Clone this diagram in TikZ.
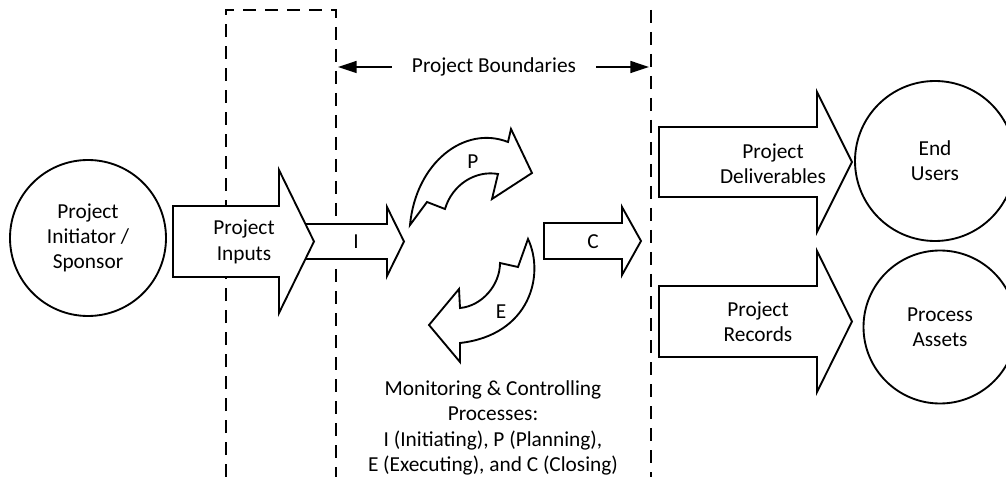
\documentclass[tikz,border=0pt]{standalone}
\usepackage{fontspec}
\setmainfont{Carlito}
\usepackage{tikz}
\usetikzlibrary{
	arrows.meta,
	positioning
}
\tikzset{
  % line
	cstdash/.style    ={line width=1.4pt, dash pattern=on 10pt off 6.5pt}, % boundary line
	cstbra/.style     ={-{Triangle[length=14pt,width=9pt]}, line width=1.2pt}, % boundary arrow
  % shape
	cstblock/.style   ={fill=white, draw=black, line width=1.4pt, line join=miter}, % block arrow
  % node
	csttext/.style    ={align=center, inner sep=0pt, font=\fontsize{16pt}{19pt}\selectfont},
	cstcircle/.style  ={csttext, circle, fill=white, draw=black, line width=1.4pt}
}

\begin{document}
\begin{tikzpicture}[x=0.75pt,y=-0.75pt]
	\useasboundingbox (0,0) rectangle (1006,477);
	% boundaries
	\draw[cstdash] (226,477) -- (226,10) -- (336,10) -- (336,477);
	\draw[cstdash] (651,10) -- (651,477);
	\node[csttext, inner xsep=15pt] (bound) at (494,67) {Project Boundaries};
	\coordinate (bl) at (338,67);
	\coordinate (br) at (649,67);
	\draw[cstbra] (bound) -- (bl);
	\draw[cstbra] (bound) -- (br);
	% sponsor and inputs
	\node[cstcircle, minimum size=117pt] (sponsor) at (88,238) {Project\\Initiator /\\Sponsor};
	\draw[cstblock] (300,224) -- (387,224) -- (387,207) -- (404,241.5) -- (387,276) -- (387,259) -- (300,259) -- cycle;
	\draw[cstblock] (173,206) -- (279,206) -- (279,170) -- (314,241.5) -- (279,313) -- (279,277) -- (173,277) -- cycle;
	\node[csttext] (inputs) at (244,242) {Project\\Inputs};
	\node[csttext] (init) at (356,242) {I};
	% process groups
	\draw[cstblock] (410,225) .. controls (416,162) and (465,125) .. (508,142) -- (511,129) -- (532,173) -- (492,199) -- (498,174)
		.. controls (475,170) and (452,185) .. (445,209) -- (427,202) -- cycle;
	\node[csttext] (plan) at (473,162) {P};
	\draw[cstblock] (429,325) -- (459,289) -- (460,308) .. controls (482,306) and (500,285) .. (500,263) -- (518,267) -- (528,239)
		.. controls (545,275) and (530,335) .. (460,343) -- (460,362) -- cycle;
	\node[csttext] (exec) at (501,312) {E};
	\draw[cstblock] (544,223) -- (622,223) -- (622,207) -- (641,241) -- (622,275) -- (622,259) -- (544,259) -- cycle;
	\node[csttext] (close) at (593,242) {C};
	\node[csttext] (monitor) at (493,428) {Monitoring \& Controlling\\Processes:\\I (Initiating), P (Planning),\\E (Executing), and C (Closing)};
	% outputs
	\draw[cstblock] (659,127) -- (817,127) -- (817,92) -- (852,162) -- (817,232) -- (817,197) -- (659,197) -- cycle;
	\node[csttext] (deliv) at (773,164) {Project\\Deliverables};
	\node[cstcircle, minimum size=120pt] (users) at (935,161) {End\\Users};
	\draw[cstblock] (659,286) -- (817,286) -- (817,251) -- (852,321.5) -- (817,392) -- (817,357) -- (659,357) -- cycle;
	\node[csttext] (records) at (758,322) {Project\\Records};
	\node[cstcircle, minimum size=114.75pt] (assets) at (940,327) {Process\\Assets};
\end{tikzpicture}
\end{document}
